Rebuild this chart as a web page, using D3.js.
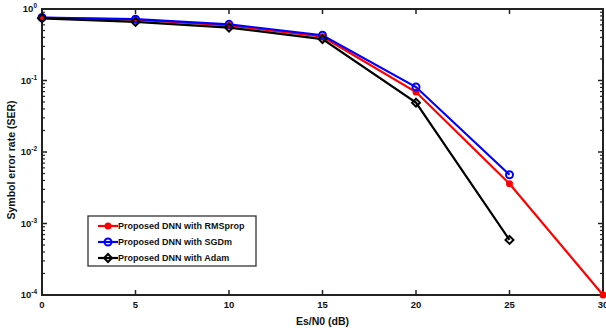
<!DOCTYPE html>
<html>
<head>
<meta charset="utf-8">
<script src="https://cdn.jsdelivr.net/npm/d3@7"></script>
<style>
  body { margin: 0; background: #fff; }
  text { font-family: Arial, "Liberation Sans", sans-serif; font-weight: bold; }
</style>
</head>
<body>
<div id="chart"></div>
<script>
// Data
const snr = [0, 5, 10, 15, 20, 25, 30];
const serRMSprop = [0.75, 0.71, 0.59, 0.41, 0.069, 0.0036, 0.0001];
const serSGDm = [0.76, 0.72, 0.61, 0.43, 0.081, 0.0048];
const serAdam = [0.74, 0.66, 0.55, 0.38, 0.049, 0.00059];
const xTicks = [0, 5, 10, 15, 20, 25, 30];
const yDecades = [0, -1, -2, -3, -4];

const seriesList = [
  { name: "Proposed DNN with RMSprop", values: serRMSprop, color: "#ff0000", marker: "dot" },
  { name: "Proposed DNN with SGDm", values: serSGDm, color: "#0000ff", marker: "circle" },
  { name: "Proposed DNN with Adam", values: serAdam, color: "#000000", marker: "diamond" }
];

const width = 606, height = 331;
const margin = { top: 9, right: 3, bottom: 36, left: 42 };
const w = width - margin.left - margin.right;
const h = height - margin.top - margin.bottom;

const svg = d3.select("#chart").append("svg")
  .attr("width", width)
  .attr("height", height);

const g = svg.append("g")
  .attr("transform", `translate(${margin.left},${margin.top})`);

const x = d3.scaleLinear().domain([0, 30]).range([0, w]);
const y = d3.scaleLog().domain([1e-4, 1]).range([h, 0]);

// minor ticks on log axis
const minor = [];
yDecades.slice(1).forEach(e => {
  for (let k = 2; k <= 9; k++) minor.push(k * Math.pow(10, e));
});

// Tick marks (inside, on all four sides)
const tickLen = 5;
xTicks.forEach(t => {
  g.append("line").attr("x1", x(t)).attr("x2", x(t)).attr("y1", h).attr("y2", h - tickLen)
    .attr("stroke", "#222").attr("stroke-width", 1.5);
  g.append("line").attr("x1", x(t)).attr("x2", x(t)).attr("y1", 0).attr("y2", tickLen)
    .attr("stroke", "#222").attr("stroke-width", 1.5);
});
yDecades.forEach(e => {
  const v = Math.pow(10, e);
  g.append("line").attr("x1", 0).attr("x2", tickLen).attr("y1", y(v)).attr("y2", y(v))
    .attr("stroke", "#222").attr("stroke-width", 1.5);
  g.append("line").attr("x1", w).attr("x2", w - tickLen).attr("y1", y(v)).attr("y2", y(v))
    .attr("stroke", "#222").attr("stroke-width", 1.5);
});
minor.forEach(v => {
  g.append("line").attr("x1", 0).attr("x2", 3).attr("y1", y(v)).attr("y2", y(v))
    .attr("stroke", "#222").attr("stroke-width", 1.2);
  g.append("line").attr("x1", w).attr("x2", w - 3).attr("y1", y(v)).attr("y2", y(v))
    .attr("stroke", "#222").attr("stroke-width", 1.2);
});

// Frame
g.append("rect").attr("width", w).attr("height", h)
  .attr("fill", "none").attr("stroke", "#222").attr("stroke-width", 2);

// X tick labels
g.selectAll(".xt").data(xTicks).enter().append("text")
  .attr("x", d => x(d)).attr("y", h + 13)
  .attr("text-anchor", "middle").attr("font-size", 9.5).attr("fill", "#111")
  .text(d => d);

// Y tick labels 10^e
yDecades.forEach(e => {
  const t = g.append("text").attr("x", -5).attr("y", y(Math.pow(10, e)) + 3)
    .attr("text-anchor", "end").attr("font-size", 9.5).attr("fill", "#111");
  t.append("tspan").text("10");
  t.append("tspan").attr("dy", -4).attr("font-size", 6.5).text(e);
});

// Axis labels
svg.append("text").attr("x", margin.left + x(15)).attr("y", 325)
  .attr("text-anchor", "middle").attr("font-size", 10.5).attr("fill", "#111")
  .text("Es/N0 (dB)");
svg.append("text").attr("transform", `translate(15,${margin.top + h / 2 + 8}) rotate(-90)`)
  .attr("text-anchor", "middle").attr("font-size", 10.5).attr("fill", "#111")
  .text("Symbol error rate (SER)");

// Lines & markers
const line = d3.line().x((d, i) => x(snr[i])).y(d => y(d));

function drawMarker(sel, type, color, cx, cy) {
  if (type === "dot") {
    sel.append("circle").attr("cx", cx).attr("cy", cy).attr("r", 3.5).attr("fill", color);
  } else if (type === "circle") {
    sel.append("circle").attr("cx", cx).attr("cy", cy).attr("r", 3.5)
      .attr("fill", "none").attr("stroke", color).attr("stroke-width", 2);
  } else {
    sel.append("path")
      .attr("d", d3.symbol().type(d3.symbolDiamond2).size(40)())
      .attr("transform", `translate(${cx},${cy})`)
      .attr("fill", "none").attr("stroke", color).attr("stroke-width", 2);
  }
}

seriesList.forEach(s => {
  g.append("path").datum(s.values)
    .attr("d", line).attr("fill", "none")
    .attr("stroke", s.color).attr("stroke-width", 2.2);
});
seriesList.forEach(s => {
  s.values.forEach((v, i) => drawMarker(g, s.marker, s.color, x(snr[i]), y(v)));
});

// Legend
const lg = svg.append("g").attr("transform", "translate(88,216)");
lg.append("rect").attr("width", 168).attr("height", 50)
  .attr("fill", "#fff").attr("stroke", "#222").attr("stroke-width", 1.2);
seriesList.forEach((s, i) => {
  const ly = 10 + i * 16;
  lg.append("line").attr("x1", 10).attr("x2", 30).attr("y1", ly).attr("y2", ly)
    .attr("stroke", s.color).attr("stroke-width", 2.2);
  drawMarker(lg, s.marker, s.color, 20, ly);
  lg.append("text").attr("x", 30).attr("y", ly + 3)
    .attr("font-size", 9).attr("fill", "#111").text(s.name);
});
</script>
</body>
</html>
